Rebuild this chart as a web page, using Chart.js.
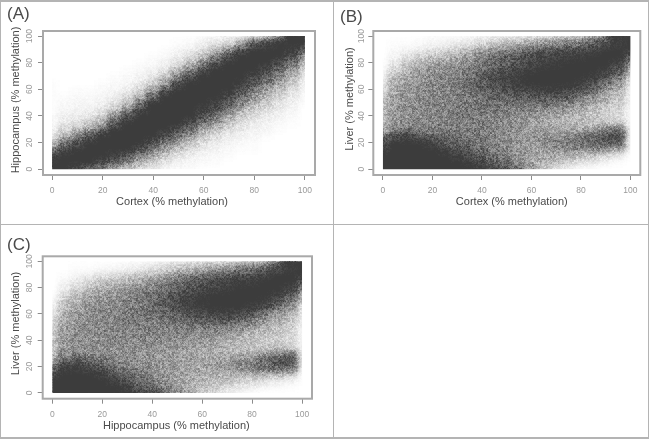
<!DOCTYPE html>
<html><head><meta charset="utf-8">
<style>
html,body{margin:0;padding:0;background:#fff;width:649px;height:439px;overflow:hidden;font-family:"Liberation Sans",Arial,sans-serif}
canvas{position:absolute;display:block;filter:blur(.45px)}
.line{position:absolute;background:#b4b4b4}
.tag{position:absolute;font-size:17px;color:#4a4a4a;line-height:20px}
.box{position:absolute}
</style>
<script src="https://cdn.jsdelivr.net/npm/chart.js@4/dist/chart.umd.min.js"></script>
</head><body>
<div class="line" style="left:0;top:0;width:649px;height:2px"></div>
<div class="line" style="left:0;top:0;width:1px;height:439px"></div>
<div class="line" style="left:333px;top:0;width:1px;height:439px"></div>
<div class="line" style="left:648px;top:0;width:1px;height:439px"></div>
<div class="line" style="left:0;top:224px;width:649px;height:1px"></div>
<div class="line" style="left:0;top:437px;width:649px;height:2px"></div>
<div class="box" style="left:0;top:0;width:333px;height:224px"><canvas id="a"></canvas></div>
<div class="box" style="left:334px;top:0;width:314px;height:224px"><canvas id="b"></canvas></div>
<div class="box" style="left:0;top:225px;width:333px;height:212px"><canvas id="c"></canvas></div>
<div class="tag" style="left:7px;top:4px">(A)</div>
<div class="tag" style="left:340px;top:7px">(B)</div>
<div class="tag" style="left:7px;top:235px">(C)</div>
<script>
const tickValues=[0,20,40,60,80,100];
const binX=[0,5,10,15,20,25,30,35,40,45,50,55,60,65,70,75,80,85,90,95,100];
const binY=[0,5,10,15,20,25,30,35,40,45,50,55,60,65,70,75,80,85,90,95,100];

// Point density (0 = white, 100 = solid), one inner list per binX value, running up binY
const densityA=[
[100,100,95,60,25,10,5,3,2,1,1,1,1,1,0,0,0,0,0,0,0],
[100,100,100,90,60,30,15,8,5,3,2,1,0,0,0,0,0,0,0,0,0],
[90,100,100,100,85,50,25,12,6,4,3,2,1,0,0,0,0,0,0,0,0],
[70,100,100,100,100,80,40,20,10,5,3,2,1,0,0,0,0,0,0,0,0],
[55,85,100,100,100,100,70,35,18,9,5,3,2,1,0,0,0,0,0,0,0],
[35,65,95,100,100,100,100,80,45,22,11,6,3,2,1,0,0,0,0,0,0],
[22,45,75,100,100,100,100,100,85,50,25,12,6,3,2,1,0,0,0,0,0],
[12,28,50,80,100,100,100,100,100,90,60,30,15,8,4,2,1,0,0,0,0],
[6,15,32,55,80,100,100,100,100,100,100,70,35,18,9,4,2,1,0,0,0],
[3,8,18,35,55,85,100,100,100,100,100,100,75,40,20,10,5,2,1,0,0],
[2,4,10,20,35,60,85,100,100,100,100,100,100,85,50,25,12,6,3,1,0],
[1,3,5,12,20,38,60,85,100,100,100,100,100,100,85,50,25,12,6,2,0],
[0,2,3,6,12,20,35,58,80,95,100,100,100,100,100,85,50,25,12,5,1],
[0,1,2,4,6,12,22,38,58,80,95,100,100,100,100,100,85,50,25,10,2],
[0,0,1,2,4,6,12,22,35,55,75,90,100,100,100,100,100,85,50,14,4],
[0,0,0,1,2,4,7,12,20,32,50,68,85,97,100,100,100,100,85,30,3],
[0,0,0,1,1,3,4,7,12,20,30,45,60,78,92,100,100,100,100,70,8],
[0,0,0,0,0,1,3,4,7,12,18,28,40,55,72,88,100,100,100,90,15],
[0,0,0,0,0,0,1,2,4,6,10,15,24,36,52,68,85,100,100,100,40],
[0,0,0,0,0,0,0,1,2,3,5,8,12,18,28,42,60,85,98,100,75],
[0,0,0,0,0,0,0,0,0,0,1,2,3,5,8,14,25,45,75,100,100]
];
const densityB=[
[100,100,100,95,85,55,30,28,26,24,22,18,12,8,4,2,1,0,0,0,0],
[100,100,100,100,100,85,50,42,42,42,40,38,35,30,24,15,8,4,2,1,0],
[100,100,100,100,100,92,60,45,45,45,45,42,42,40,35,28,20,10,4,1,0],
[100,100,100,100,100,80,55,47,47,47,48,47,45,45,42,35,28,16,6,2,0],
[100,100,100,100,95,72,55,50,50,50,50,50,48,48,45,40,33,22,9,3,1],
[100,100,100,95,80,65,55,52,52,52,52,52,50,50,50,45,38,26,13,4,1],
[100,100,97,85,72,62,56,54,54,54,55,55,55,55,55,50,42,32,18,6,1],
[100,98,88,75,65,58,55,54,55,56,57,58,60,62,60,55,48,38,24,8,2],
[98,88,75,65,58,55,54,54,56,58,60,63,68,72,72,65,55,50,36,14,3],
[90,75,62,56,52,50,50,52,54,57,62,68,75,82,82,75,65,58,42,18,4],
[80,62,52,48,46,45,46,48,50,55,62,72,82,90,90,85,72,68,50,24,5],
[62,50,44,42,42,42,42,44,46,52,62,75,88,96,96,92,80,76,58,28,6],
[40,38,36,38,40,40,38,38,42,50,62,78,92,100,100,97,88,84,66,34,8],
[22,30,34,38,44,42,36,34,38,46,62,80,95,100,100,100,94,90,74,40,10],
[12,24,32,42,50,44,34,30,33,42,58,80,96,100,100,100,98,94,80,46,12],
[6,16,28,44,58,50,34,28,30,38,52,75,92,100,100,100,100,96,86,54,16],
[2,10,24,44,62,58,36,26,26,32,44,62,84,97,100,100,100,97,85,55,22],
[1,6,18,42,68,68,42,24,22,26,34,46,66,85,98,100,100,100,92,68,32],
[0,3,12,38,72,80,55,24,18,20,26,32,46,64,85,98,100,100,100,85,50],
[0,1,6,28,72,84,62,22,12,14,18,22,30,42,60,80,95,100,100,97,75],
[0,0,1,4,8,10,8,5,4,4,5,6,8,12,20,35,55,80,100,100,100]
];
const densityC=[
[100,100,100,90,65,35,28,26,24,22,20,16,10,6,3,1,0,0,0,0,0],
[100,100,100,100,95,70,45,40,40,38,36,34,30,26,20,12,6,3,1,0,0],
[100,100,100,100,97,78,52,44,44,44,42,42,40,36,32,25,16,8,3,1,0],
[100,100,100,100,88,65,48,45,46,46,46,46,45,44,40,33,25,14,5,1,0],
[100,100,100,95,78,58,48,46,47,48,48,48,48,46,44,38,30,20,8,2,0],
[100,100,95,80,64,52,47,46,48,50,50,50,50,50,48,42,35,25,11,3,0],
[100,95,80,65,54,48,46,46,48,50,52,53,54,54,52,47,40,30,16,4,1],
[92,78,65,55,48,45,44,45,48,50,53,55,57,58,56,52,45,34,20,6,1],
[80,65,54,47,44,42,42,44,46,50,54,57,60,64,64,60,52,40,26,9,2],
[65,52,45,42,40,40,40,42,45,50,54,58,65,72,74,70,60,47,32,13,3],
[48,42,38,38,38,38,38,40,44,48,54,62,72,82,86,80,70,62,44,20,4],
[32,33,33,34,36,36,36,38,42,46,54,66,80,92,96,90,78,72,52,24,5],
[20,26,30,32,36,35,34,35,38,44,54,70,86,97,100,96,86,80,60,28,6],
[12,20,26,32,38,36,32,32,36,42,54,72,90,100,100,100,92,88,70,36,8],
[6,14,22,32,42,38,30,28,32,38,52,72,92,100,100,100,97,92,78,42,10],
[3,9,18,32,48,44,30,26,28,34,46,66,88,100,100,100,100,96,84,50,14],
[1,6,14,32,54,50,32,24,24,28,38,54,78,96,100,100,100,97,84,54,20],
[0,3,11,32,60,60,38,22,20,24,30,40,60,82,98,100,100,100,92,68,30],
[0,2,8,30,68,74,50,24,18,20,24,30,42,62,84,98,100,100,100,86,50],
[0,1,5,22,68,80,58,22,14,15,18,22,28,40,58,80,96,100,100,98,78],
[0,0,1,3,8,12,10,5,4,4,5,6,8,12,20,36,58,84,100,100,100]
];

const spriteCache={};
function sprite(d,w,h){
  const key=d+'_'+w+'_'+h;
  if(!spriteCache[key]){
    const s=document.createElement('canvas');s.width=w;s.height=h;
    const g=s.getContext('2d');const v=Math.round(255-d*1.95);
    g.fillStyle=`rgb(${v},${v},${v})`;g.fillRect(0,0,w,h);
    spriteCache[key]=s;
  }
  return spriteCache[key];
}
function cells(density,cw,ch){
  const edge=[],inner=[];
  density.forEach((col,i)=>col.forEach((d,j)=>{
    const ex=i===0||i===binX.length-1,ey=j===0||j===binY.length-1;
    const w=ex?cw*3:cw,h=ey?ch*3:ch;
    (ex||ey?edge:inner).push({p:{x:binX[i],y:binY[j]},s:sprite(d,w,h)});
  }));
  const all=edge.concat(inner);
  return {pts:all.map(c=>c.p),styles:all.map(c=>c.s)};
}
function hash(x,y){const s=Math.sin(x*12.9898+y*78.233)*43758.5453;return s-Math.floor(s);}
const softenPlugin={
  id:'soften',
  afterDatasetsDraw(c){
    const a=c.chartArea,ctx=c.ctx,cv=c.canvas;
    const t=document.createElement('canvas');t.width=cv.width;t.height=cv.height;
    t.getContext('2d').drawImage(cv,0,0);
    const x0=c.scales.x.getPixelForValue(0),x1=c.scales.x.getPixelForValue(100);
    const y1=c.scales.y.getPixelForValue(0),y0=c.scales.y.getPixelForValue(100);
    ctx.save();
    ctx.fillStyle='#fff';ctx.fillRect(a.left,a.top,a.right-a.left,a.bottom-a.top);
    ctx.beginPath();ctx.rect(x0,y0,x1-x0,y1-y0);ctx.clip();
    ctx.filter='blur(2.6px)';ctx.drawImage(t,0,0);ctx.filter='none';
    ctx.restore();
    const L=Math.round(x0),T=Math.round(y0),W=Math.round(x1-x0),H=Math.round(y1-y0);
    const img=ctx.getImageData(L,T,W,H),px=img.data;
    for(let y=0;y<H;y++)for(let x=0;x<W;x++){
      const i=(y*W+x)*4;
      const raw=Math.min(1,(255-px[i])/195);
      const tone=raw*(1+.5*(1-raw));
      const X=x+L,Y=y+T+c.width;
      const n=(hash(X,Y)+hash(X>>1,Y>>1))-1;
      const k=.7*Math.pow(1-tone,.6);
      const out=255-195*Math.max(0,Math.min(1,tone*(1+k*n)));
      px[i]=out;px[i+1]=out;px[i+2]=out;
    }
    ctx.putImageData(img,L,T);
  }
};
const framePlugin={
  id:'frame',
  afterDraw(c){
    const {left,top,right,bottom}=c.chartArea,ctx=c.ctx;
    ctx.save();ctx.strokeStyle='#a9a9a9';ctx.lineWidth=2;
    ctx.strokeRect(left,top,right-left,bottom-top);ctx.restore();
  }
};
function shiftTitle(s,dx,dy){
  if(s._shifted)return;
  s._shifted=true;
  const draw=s.drawTitle;
  s.drawTitle=function(){const g=this.ctx;g.save();g.translate(dx,dy);draw.call(this);g.restore();};
}
function make(id,cfg){
  const el=document.getElementById(id);
  el.width=cfg.w;el.height=cfg.h;el.style.width=cfg.w+'px';el.style.height=cfg.h+'px';
  const areaW=cfg.w-cfg.titleLeft-cfg.yAxisW-cfg.right,areaH=cfg.h-cfg.top-cfg.xAxisH-cfg.bottomPad;
  const cw=Math.ceil(5*areaW/(cfg.xMax-cfg.xMin))+1,ch=Math.ceil(5*areaH/(cfg.yMax-cfg.yMin))+1;
  const g=cells(cfg.density,cw,ch);
  const tickFont={size:8.5,family:'"Liberation Sans"'},titleFont={size:11,family:'"Liberation Sans"'};
  const tickGrid={drawOnChartArea:false,drawTicks:true,tickLength:5,color:'#8c8c8c',lineWidth:1};
  new Chart(el,{
    type:'scatter',
    data:{datasets:[{data:g.pts,pointStyle:g.styles,pointRadius:3,pointBorderWidth:0}]},
    plugins:[softenPlugin,framePlugin],
    options:{
      responsive:false,animation:false,
      layout:{padding:{left:cfg.titleLeft,top:cfg.top,right:cfg.right,bottom:cfg.bottomPad}},
      plugins:{legend:{display:false},tooltip:{enabled:false},title:{display:false}},
      scales:{
        x:{type:'linear',min:cfg.xMin,max:cfg.xMax,
          afterBuildTicks(s){s.ticks=tickValues.map(value=>({value}));},
          afterFit(s){s.height=cfg.xAxisH;shiftTitle(s,cfg.xShift,0);},
          grid:tickGrid,border:{display:false},
          ticks:{color:'#9a9a9a',font:tickFont,padding:6,maxRotation:0,autoSkip:false},
          title:{display:true,text:cfg.xTitle,color:'#4a4a4a',padding:0,font:titleFont}
        },
        y:{type:'linear',min:cfg.yMin,max:cfg.yMax,
          afterBuildTicks(s){s.ticks=tickValues.map(value=>({value}));},
          afterFit(s){s.width=cfg.yAxisW;shiftTitle(s,0,cfg.yShift);},
          grid:tickGrid,border:{display:false},
          ticks:{color:'#9a9a9a',font:tickFont,padding:cfg.tickPad,minRotation:90,maxRotation:90,crossAlign:'center',autoSkip:false},
          title:{display:true,text:cfg.yTitle,color:'#4a4a4a',padding:0,font:titleFont}
        }
      }
    }
  });
}
make('a',{w:333,h:224,density:densityA,xTitle:'Cortex (% methylation)',yTitle:'Hippocampus (% methylation)',
  xMin:-3.6,xMax:104,yMin:-4.4,yMax:103.8,xShift:-7,yShift:-3,
  titleLeft:9.4,yAxisW:33.6,top:31,right:18,xAxisH:33.6,bottomPad:15.4,tickPad:1.3});
make('b',{w:314,h:224,density:densityB,xTitle:'Cortex (% methylation)',yTitle:'Liver (% methylation)',
  xMin:-3.9,xMax:104,yMin:-4.4,yMax:103.8,xShift:5,yShift:-4,
  titleLeft:9.4,yAxisW:29.9,top:31,right:7.7,xAxisH:33.6,bottomPad:15.4,tickPad:0});
make('c',{w:333,h:212,density:densityC,xTitle:'Hippocampus (% methylation)',yTitle:'Liver (% methylation)',
  xMin:-3.9,xMax:104,yMin:-4.4,yMax:103.8,xShift:-1,yShift:-4,
  titleLeft:9.4,yAxisW:33.3,top:31.3,right:21,xAxisH:33.9,bottomPad:4.4,tickPad:1.3});
</script>
</body></html>
